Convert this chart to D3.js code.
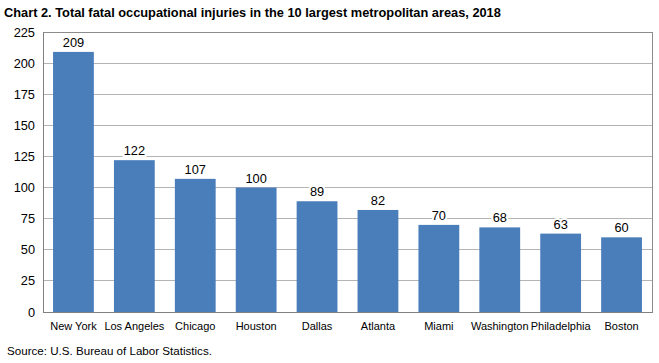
<!DOCTYPE html>
<html>
<head>
<meta charset="utf-8">
<script src="https://cdn.jsdelivr.net/npm/d3@7"></script>
<style>
  body { margin: 0; background: #fff; }
  svg { display: block; font-family: "Liberation Sans", Arial, sans-serif; }
</style>
</head>
<body>
<div id="chart"></div>
<script>
// data
var cities = ["New York", "Los Angeles", "Chicago", "Houston", "Dallas",
              "Atlanta", "Miami", "Washington", "Philadelphia", "Boston"];
var injuries = [209, 122, 107, 100, 89, 82, 70, 68, 63, 60];
var yTicks = [0, 25, 50, 75, 100, 125, 150, 175, 200, 225];

var width = 659, height = 363;
var margin = {top: 32, right: 7, bottom: 51, left: 43};

var svg = d3.select("#chart").append("svg")
    .attr("width", width)
    .attr("height", height);

var x = d3.scaleBand()
    .domain(cities)
    .range([margin.left, width - margin.right])
    .paddingInner(0.33)
    .paddingOuter(0.165);

var y = d3.scaleLinear()
    .domain([0, 225])
    .range([height - margin.bottom, margin.top]);

// title
svg.append("text")
    .attr("x", 4)
    .attr("y", 17)
    .attr("font-size", "12.8px")
    .attr("font-weight", "bold")
    .text("Chart 2. Total fatal occupational injuries in the 10 largest metropolitan areas, 2018");

// gridlines
svg.append("g")
  .selectAll("line")
  .data(yTicks.filter(function(d) { return d > 0; }))
  .enter().append("line")
    .attr("x1", margin.left)
    .attr("x2", width - margin.right)
    .attr("y1", function(d) { return y(d); })
    .attr("y2", function(d) { return y(d); })
    .attr("stroke", "#b4b4b4")
    .attr("stroke-width", 1)
    .attr("shape-rendering", "crispEdges");

// plot frame
svg.append("rect")
    .attr("x", margin.left)
    .attr("y", margin.top)
    .attr("width", width - margin.right - margin.left)
    .attr("height", height - margin.bottom - margin.top)
    .attr("fill", "none")
    .attr("stroke", "#8c8c8c")
    .attr("shape-rendering", "crispEdges");

// y axis
var yAxis = svg.append("g")
    .attr("transform", "translate(" + margin.left + ",0)")
    .call(d3.axisLeft(y).tickValues(yTicks).tickSize(0).tickPadding(8));
yAxis.select(".domain").attr("stroke", "#808080");
yAxis.selectAll("text")
    .attr("font-size", "12.8px")
    .attr("fill", "#000")
    .attr("font-family", "Liberation Sans, Arial, sans-serif");

// bars
svg.append("g")
  .selectAll("rect")
  .data(injuries)
  .enter().append("rect")
    .attr("x", function(d, i) { return x(cities[i]); })
    .attr("y", function(d) { return y(d); })
    .attr("width", x.bandwidth())
    .attr("height", function(d) { return y(0) - y(d); })
    .attr("fill", "#4a7ebb");

// value labels
svg.append("g")
  .selectAll("text")
  .data(injuries)
  .enter().append("text")
    .attr("x", function(d, i) { return x(cities[i]) + x.bandwidth() / 2; })
    .attr("y", function(d) { return y(d) - 5; })
    .attr("text-anchor", "middle")
    .attr("font-size", "12.8px")
    .style("paint-order", "stroke")
    .attr("stroke", "#fff")
    .attr("stroke-width", 4)
    .text(function(d) { return d; });

// x axis
var xAxis = svg.append("g")
    .attr("transform", "translate(0," + y(0) + ")")
    .call(d3.axisBottom(x).tickSize(0).tickPadding(10));
xAxis.select(".domain").attr("stroke", "#808080");
xAxis.selectAll("text")
    .attr("font-size", "11px")
    .attr("fill", "#000")
    .attr("font-family", "Liberation Sans, Arial, sans-serif");

// source note
svg.append("text")
    .attr("x", 7)
    .attr("y", 355)
    .attr("font-size", "11.6px")
    .text("Source: U.S. Bureau of Labor Statistics.");
</script>
</body>
</html>
